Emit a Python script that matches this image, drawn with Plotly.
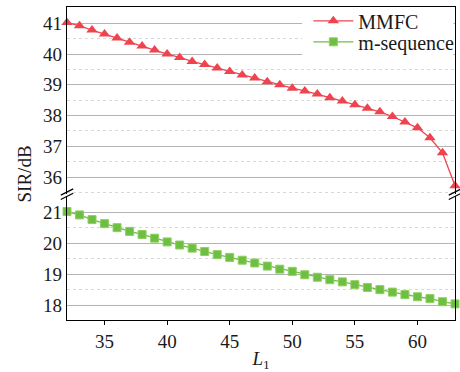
import plotly.graph_objects as go
from plotly.subplots import make_subplots

L1 = list(range(32, 64))
mmfc = [41.03, 40.92, 40.78, 40.65, 40.52, 40.38, 40.26, 40.13, 40.00, 39.89,
        39.76, 39.66, 39.55, 39.43, 39.32, 39.22, 39.10, 39.00, 38.89, 38.80,
        38.70, 38.58, 38.47, 38.35, 38.24, 38.12, 37.97, 37.79, 37.60, 37.28,
        36.79, 35.72]
mseq = [21.03, 20.92, 20.77, 20.64, 20.51, 20.39, 20.29, 20.17, 20.05, 19.95,
        19.85, 19.74, 19.64, 19.55, 19.46, 19.37, 19.27, 19.17, 19.10, 18.99,
        18.91, 18.83, 18.76, 18.67, 18.58, 18.51, 18.43, 18.35, 18.28, 18.22,
        18.12, 18.05]
x_ticks = [35, 40, 45, 50, 55, 60]
top_ticks = [36, 37, 38, 39, 40, 41]
bot_ticks = [18, 19, 20, 21]

RED = "#ee4450"
GREEN = "#6fbe44"
FONT = "Liberation Serif"
TXT = "#1a1a1a"

fig = make_subplots(rows=2, cols=1, shared_xaxes=True, vertical_spacing=0.0)

fig.add_trace(go.Scatter(x=L1, y=mmfc, name="MMFC", mode="lines+markers",
                         line=dict(color=RED, width=1.3),
                         marker=dict(symbol="triangle-up", size=10, color=RED),
                         cliponaxis=False, legend="legend"), row=1, col=1)
fig.add_trace(go.Scatter(x=L1, y=mseq, name="m-sequence", mode="lines+markers",
                         line=dict(color=GREEN, width=1.3),
                         marker=dict(symbol="square", size=8, color=GREEN,
                                     line=dict(color="#8fd060", width=1)),
                         cliponaxis=False, legend="legend2"), row=2, col=1)

grid = dict(showgrid=True, gridcolor="#b4b4b4", gridwidth=1,
            minor=dict(dtick=0.5, showgrid=True, gridcolor="#d8d8d8",
                       griddash="dot", gridwidth=1),
            showline=True, linecolor="black", linewidth=1.2, mirror=True,
            ticks="", zeroline=False,
            tickfont=dict(family=FONT, size=19, color=TXT))

leg = dict(xanchor="left", yanchor="top", bgcolor="rgba(0,0,0,0)",
           borderwidth=0, font=dict(family=FONT, size=20, color=TXT),
           itemwidth=40)

fig.update_layout(
    width=460, height=372,
    margin=dict(l=67, r=5, t=7, b=52, autoexpand=False),
    paper_bgcolor="white", plot_bgcolor="white",
    font=dict(family=FONT, size=19, color=TXT),
    showlegend=True,
    legend=dict(x=0.622, y=1.018, **leg),
    legend2=dict(x=0.622, y=0.951, **leg),
    yaxis=dict(domain=[0.4026, 1], range=[35.45, 41.53],
               tickvals=top_ticks, **grid),
    yaxis2=dict(domain=[0, 0.396], range=[17.53, 21.53],
                tickvals=bot_ticks, **grid),
    xaxis=dict(range=[32, 63], showgrid=False, showline=True, side="top",
               linecolor="black", linewidth=1.2, ticks="",
               showticklabels=False, zeroline=False),
    xaxis2=dict(range=[32, 63], showgrid=False, showline=True,
                linecolor="black", linewidth=1.2, ticks="outside",
                ticklen=4, tickcolor="black", tickvals=x_ticks,
                zeroline=False,
                tickfont=dict(family=FONT, size=19, color=TXT),
                title=dict(text="<i>L</i><sub>1</sub>",
                           font=dict(family=FONT, size=19, color=TXT),
                           standoff=0)),
)

# white box behind the legend
fig.add_shape(type="rect", xref="paper", yref="paper",
              x0=0.606, x1=0.996, y0=0.84, y1=0.995,
              fillcolor="white", line=dict(width=0), layer="above")

fig.add_annotation(text="SIR/dB", xref="paper", yref="paper",
                   x=-0.11, y=0.466, xanchor="center", yanchor="middle",
                   textangle=-90, showarrow=False,
                   font=dict(family=FONT, size=19, color=TXT))

# axis break marks
for xp in [0, 1]:
    fig.add_shape(type="rect", xref="paper", yref="paper",
                  x0=xp - 0.012, x1=xp + 0.012, y0=0.396, y1=0.4026,
                  fillcolor="white", line=dict(width=0))
    for dy in [0.0, 0.014]:
        fig.add_shape(type="line", xref="paper", yref="paper",
                      x0=xp - 0.016, x1=xp + 0.016,
                      y0=0.385 + dy, y1=0.405 + dy,
                      line=dict(color="black", width=1.2))

fig.write_html("out.html")
